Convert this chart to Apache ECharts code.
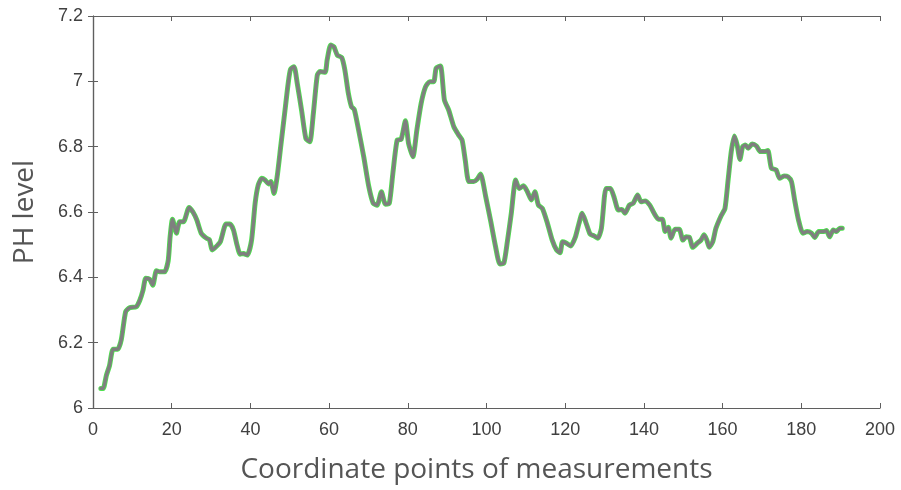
<!DOCTYPE html>
<html>
<head>
<meta charset="utf-8">
<script src="https://cdn.jsdelivr.net/npm/echarts@6/dist/echarts.min.js"></script>
<style>html,body{margin:0;padding:0;background:#fff}#c{width:901px;height:490px}</style>
</head>
<body>
<div id="c"></div>
<script>
var xTicks = [0, 20, 40, 60, 80, 100, 120, 140, 160, 180, 200];
var yTicks = [6, 6.2, 6.4, 6.6, 6.8, 7, 7.2];
var xName = 'Coordinate points of measurements';
var yName = 'PH level';

var xValues = [
2.0,2.6,3.4,4.2,5.1,6.3,7.2,8.3,9.3,11.0,11.9,12.7,13.4,14.4,15.2,16.1,16.9,18.2,19.1,19.6,
20.2,21.2,22.0,23.0,24.4,25.4,26.4,27.5,28.8,29.6,30.3,31.3,32.4,33.8,34.8,35.7,36.5,37.4,38.2,39.2,
40.3,41.2,42.0,42.9,43.7,44.6,45.2,46.0,46.8,47.7,48.8,49.6,50.2,51.1,51.9,53.0,54.1,55.1,56.0,57.0,
57.7,59.0,59.5,60.4,61.2,62.1,63.2,64.0,64.9,65.7,66.4,67.5,68.8,70.1,71.2,72.2,73.3,74.3,75.3,76.2,
77.3,78.3,79.4,80.2,81.3,82.3,83.4,84.5,85.6,86.6,87.2,88.3,89.3,90.4,91.7,92.9,93.8,94.6,95.5,96.7,
97.6,98.5,99.8,101.1,102.3,103.4,104.4,105.3,106.3,107.4,108.3,109.4,110.4,111.4,112.3,113.2,114.2,115.5,116.7,117.8,
118.7,119.3,120.1,121.4,122.6,123.5,124.3,125.2,126.3,127.3,128.3,129.2,130.0,130.4,131.5,132.5,133.5,134.4,135.2,136.3,
137.3,138.4,139.3,140.3,141.5,142.6,143.7,144.7,145.4,146.2,146.9,147.9,149.0,149.9,150.7,151.6,152.4,153.7,154.5,155.3,
156.0,156.6,157.5,158.3,159.6,160.6,161.4,162.2,163.0,163.7,164.4,165.1,165.8,166.5,167.5,168.6,169.6,170.7,171.5,172.4,
173.6,174.5,175.6,176.6,177.5,178.3,179.3,180.4,181.5,182.6,183.4,184.4,185.5,186.4,187.2,188.1,188.9,189.8,190.4
];
var phValues = [
6.06,6.06,6.10,6.13,6.18,6.18,6.21,6.295,6.307,6.31,6.33,6.36,6.397,6.394,6.376,6.42,6.417,6.417,6.45,6.524,
6.578,6.535,6.57,6.57,6.614,6.60,6.575,6.535,6.52,6.515,6.484,6.494,6.51,6.563,6.563,6.545,6.504,6.471,6.473,6.468,
6.514,6.627,6.683,6.703,6.698,6.686,6.693,6.657,6.708,6.80,6.912,6.994,7.037,7.045,6.994,6.912,6.825,6.815,6.902,7.019,
7.03,7.028,7.065,7.111,7.106,7.08,7.073,7.035,6.963,6.922,6.914,6.851,6.769,6.677,6.627,6.621,6.662,6.624,6.627,6.718,
6.82,6.822,6.879,6.81,6.769,6.851,6.933,6.983,6.999,6.999,7.04,7.047,6.943,6.912,6.861,6.836,6.82,6.759,6.693,6.693,
6.70,6.716,6.647,6.57,6.494,6.441,6.443,6.509,6.596,6.698,6.672,6.68,6.662,6.637,6.662,6.621,6.611,6.565,6.514,6.484,
6.475,6.509,6.506,6.496,6.524,6.565,6.596,6.57,6.533,6.527,6.52,6.55,6.65,6.672,6.672,6.642,6.606,6.608,6.596,6.621,
6.627,6.652,6.631,6.634,6.621,6.596,6.578,6.578,6.54,6.553,6.52,6.547,6.547,6.514,6.524,6.522,6.492,6.506,6.514,6.53,
6.514,6.492,6.509,6.55,6.588,6.611,6.698,6.785,6.833,6.805,6.761,6.80,6.805,6.795,6.808,6.802,6.785,6.785,6.788,6.734,
6.729,6.703,6.71,6.708,6.693,6.637,6.575,6.535,6.54,6.535,6.522,6.54,6.54,6.543,6.524,6.545,6.54,6.55,6.55
];

var points = xValues.map(function (x, i) { return [x, phValues[i]]; });

var axisColor = '#5f5f5f';
var labelStyle = { color: '#404040', fontSize: 18, fontFamily: 'Liberation Sans, Arial, sans-serif' };

function xAx(pos, main) {
  return {
    type: 'value', position: pos,
    min: xTicks[0], max: xTicks[xTicks.length - 1], interval: xTicks[1] - xTicks[0],
    name: main ? xName : '', nameLocation: 'middle', nameGap: 48,
    nameTextStyle: { color: '#555', fontSize: 28, fontFamily: 'Open Sans, sans-serif', padding: [0, 20, 0, 0] },
    axisLine: { show: true, lineStyle: { color: axisColor, width: 1.2 } },
    axisTick: { show: true, inside: true, length: 5, lineStyle: { color: axisColor } },
    axisLabel: main ? Object.assign({ show: true, margin: 13 }, labelStyle) : { show: false },
    splitLine: { show: false }
  };
}
function yAx(pos, main) {
  return {
    type: 'value', position: pos,
    min: yTicks[0], max: yTicks[yTicks.length - 1], interval: 0.2,
    name: main ? yName : '', nameLocation: 'middle', nameGap: 54,
    nameTextStyle: { color: '#555', fontSize: 28, fontFamily: 'Open Sans, sans-serif' },
    axisLine: { show: true, lineStyle: { color: axisColor, width: 1.2 } },
    axisTick: { show: true, inside: true, length: 5, lineStyle: { color: axisColor } },
    axisLabel: main ? Object.assign({ show: true, margin: 10, formatter: function (v) { return String(+v.toFixed(1)); } }, labelStyle) : { show: false },
    splitLine: { show: false }
  };
}

var chart = echarts.init(document.getElementById('c'), null, { renderer: 'canvas' });
chart.setOption({
  animation: false,
  backgroundColor: '#fff',
  grid: { left: 93, right: 21, top: 16, bottom: 82, containLabel: false },
  xAxis: [xAx('bottom', true), xAx('top', false)],
  yAxis: [yAx('left', true), yAx('right', false)],
  series: [
    {
      type: 'line', data: points, showSymbol: false, symbol: 'none', smooth: 0.2,
      lineStyle: { color: '#4fe04f', width: 5, cap: 'round', join: 'round' }, z: 2
    },
    {
      type: 'line', data: points, showSymbol: false, symbol: 'none', smooth: 0.2,
      lineStyle: { color: '#7f7f7f', width: 3.4, cap: 'round', join: 'round' }, z: 3
    }
  ]
});
</script>
</body>
</html>
